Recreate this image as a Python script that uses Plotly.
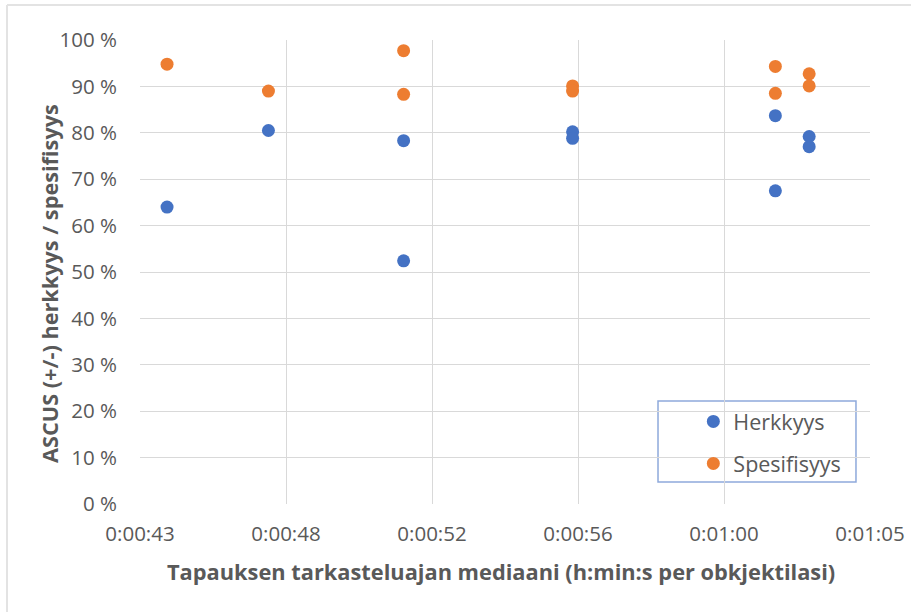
import plotly.graph_objects as go

# Data (median viewing time per case in seconds; values in %)
time_s = [44, 47, 51, 51, 56, 56, 62, 62, 63, 63]
herkkyys = [64.0, 80.5, 78.3, 52.4, 80.2, 78.8, 83.7, 67.5, 79.2, 77.0]
spesifisyys = [94.8, 89.0, 97.7, 88.3, 90.1, 89.0, 94.3, 88.5, 92.7, 90.1]

x_tick_vals = [43.2, 47.52, 51.84, 56.16, 60.48, 64.8]
x_tick_text = ["0:00:43", "0:00:48", "0:00:52", "0:00:56", "0:01:00", "0:01:05"]

x_title = "Tapauksen tarkasteluajan mediaani (h:min:s per obkjektilasi)"
y_title = "ASCUS (+/-) herkkyys / spesifisyys"

FONT = "Open Sans"
TXT = "#595959"
GRID = "#D9D9D9"

fig = go.Figure()
fig.add_trace(go.Scatter(x=time_s, y=herkkyys, mode="markers", name="Herkkyys",
                         legendgroup="a",
                         marker=dict(color="#4472C4", size=13)))
fig.add_trace(go.Scatter(x=time_s, y=spesifisyys, mode="markers", name="Spesifisyys",
                         legendgroup="b",
                         marker=dict(color="#ED7D31", size=13)))

fig.update_layout(
    width=911, height=612,
    margin=dict(l=140, r=41, t=40, b=108, autoexpand=False),
    paper_bgcolor="white", plot_bgcolor="white",
    font=dict(family=FONT, color=TXT, size=20),
    showlegend=True,
    legend=dict(x=0.758, y=0.222, xanchor="left", yanchor="top",
                bgcolor="rgba(0,0,0,0)", borderwidth=0,
                font=dict(size=21.5, color=TXT),
                traceorder="grouped", tracegroupgap=11),
    xaxis=dict(range=[43.2, 64.8], tickvals=x_tick_vals, ticktext=x_tick_text,
               showgrid=True, gridcolor=GRID, gridwidth=1, zeroline=False,
               showline=False, ticks="", ticklabelstandoff=15, automargin=False,
               tickfont=dict(size=20.5, color=TXT)),
    yaxis=dict(range=[0, 100], dtick=10, ticksuffix=" %",
               showgrid=True, gridcolor=GRID, gridwidth=1, zeroline=False,
               showline=False, ticks="", ticklabelstandoff=22, automargin=False,
               tickfont=dict(size=20.5, color=TXT)),
    annotations=[
        dict(text="<b>" + x_title + "</b>", xref="paper", yref="paper",
             x=0.4945, y=-0.1444, xanchor="center", yanchor="middle",
             showarrow=False, font=dict(size=21.8, color=TXT)),
        dict(text="<b>" + y_title + "</b>", xref="paper", yref="paper",
             x=-0.1233, y=0.4763, xanchor="center", yanchor="middle",
             textangle=-90, showarrow=False, font=dict(size=21.7, color=TXT)),
    ],
    shapes=[
        # legend box
        dict(type="rect", xref="paper", yref="paper",
             x0=0.7096, x1=0.9808, y0=0.0474, y1=0.222,
             line=dict(color="#8EA9DB", width=1.5), fillcolor="white", layer="below"),
        # chart area border (left & top)
        dict(type="line", xref="paper", yref="paper",
             x0=-0.1822, x1=-0.1822, y0=1.0754, y1=-0.3,
             line=dict(color="#E3E3E3", width=2)),
        dict(type="line", xref="paper", yref="paper",
             x0=-0.1822, x1=1.1, y0=1.0754, y1=1.0754,
             line=dict(color="#E3E3E3", width=2)),
    ],
)

fig.write_html("out.html", config={"displayModeBar": False},
               post_script="document.body.style.margin='0px';")
